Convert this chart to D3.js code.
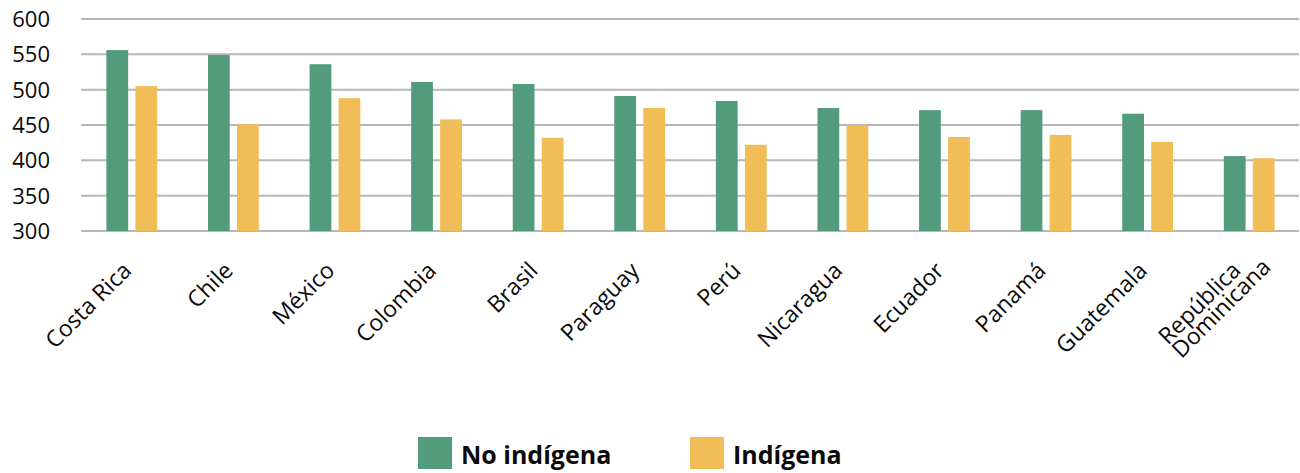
<!DOCTYPE html>
<html>
<head>
<meta charset="utf-8">
<script src="https://cdn.jsdelivr.net/npm/d3@7"></script>
<style>
  body { margin: 0; background: #fff; }
  svg text { font-family: "Open Sans", "Noto Sans", sans-serif; fill: #0a0a0a; }
</style>
</head>
<body>
<svg id="chart" width="1300" height="473"></svg>
<script>
const countries = ["Costa Rica", "Chile", "México", "Colombia", "Brasil", "Paraguay",
  "Perú", "Nicaragua", "Ecuador", "Panamá", "Guatemala", "República\nDominicana"];
const noIndigena = [556, 549, 536, 511, 508, 491, 484, 474, 471, 471, 466, 406];
const indigena   = [505, 451, 488, 458, 432, 474, 422, 449, 433, 436, 426, 403];
const seriesNames = ["No indígena", "Indígena"];
const seriesColors = ["#529b7c", "#f0bd57"];
const yTicks = [300, 350, 400, 450, 500, 550, 600];

const svg = d3.select("#chart");
const plotLeft = 81, plotRight = 1300, plotTop = 19, plotBottom = 231;

const x = d3.scaleBand().domain(countries).range([plotLeft, plotRight])
  .paddingInner(0.5).paddingOuter(0.25);
const xs = d3.scaleBand().domain(seriesNames).range([0, x.bandwidth()]).paddingInner(0.25);
const y = d3.scaleLinear().domain([300, 600]).range([plotBottom, plotTop]);

// gridlines + y labels
const yAxis = svg.append("g");
yAxis.selectAll("line").data(yTicks).enter().append("line")
  .attr("x1", plotLeft).attr("x2", plotRight - 1)
  .attr("y1", d => y(d)).attr("y2", d => y(d))
  .attr("stroke", "#b7b7b7").attr("stroke-width", 2);
yAxis.selectAll("text").data(yTicks).enter().append("text")
  .attr("x", 50).attr("y", d => y(d)).attr("dy", "0.36em")
  .attr("text-anchor", "end").style("font-size", "22px")
  .text(d => d);

// bars
const rows = countries.map((c, i) => ({ country: c, values: [noIndigena[i], indigena[i]] }));
const groups = svg.append("g").selectAll("g").data(rows).enter().append("g")
  .attr("transform", d => `translate(${x(d.country)},0)`);
groups.selectAll("rect")
  .data(d => d.values.map((v, j) => ({ name: seriesNames[j], value: v, color: seriesColors[j] })))
  .enter().append("rect")
  .attr("x", d => xs(d.name))
  .attr("width", xs.bandwidth())
  .attr("y", d => y(d.value))
  .attr("height", d => y(300) - y(d.value))
  .attr("fill", d => d.color);

// x labels, rotated -45
const labels = svg.append("g").selectAll("text").data(countries).enter().append("text")
  .attr("transform", d => `translate(${x(d) + x.bandwidth() / 2 + 1},272) rotate(-45)`)
  .style("font-size", "23px");
labels.each(function(d) {
  const t = d3.select(this);
  const lines = d.split("\n");
  if (lines.length === 1) {
    t.attr("text-anchor", "end").text(d);
  } else {
    const spans = lines.map((ln, i) => t.append("tspan").attr("x", 0)
      .attr("y", i === 0 ? -6 : 13).text(ln));
    const maxW = d3.max(spans, s => s.node().getComputedTextLength());
    spans.forEach(s => s.attr("x", 18 - maxW));
  }
});

// legend
const legend = svg.append("g");
const legendX = [418, 690];
seriesNames.forEach((name, i) => {
  legend.append("rect").attr("x", legendX[i]).attr("y", 437)
    .attr("width", 34).attr("height", 32).attr("fill", seriesColors[i]);
  legend.append("text").attr("x", legendX[i] + 43).attr("y", 464)
    .style("font-size", "25px").style("font-weight", "bold")
    .text(name);
});
</script>
</body>
</html>
